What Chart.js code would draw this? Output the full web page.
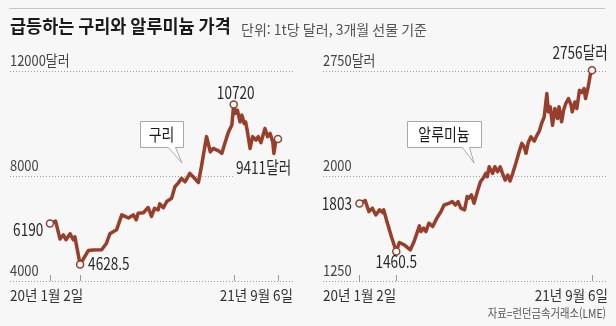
<!DOCTYPE html>
<html lang="ko">
<head>
  <meta charset="UTF-8">
  <meta name="viewport" content="width=device-width, initial-scale=1.0">
  <title>급등하는 구리와 알루미늄 가격</title>
  <script src="https://cdn.jsdelivr.net/npm/chart.js"></script>
  <style>
    body { margin: 0; background: #f7f7f7; }
    .wrap { position: relative; width: 616px; height: 326px; }
    .wrap canvas { position: absolute; left: 0; top: 0; }
  </style>
</head>
<body>
  <div class="wrap">
    <canvas id="copperChart" width="616" height="326"></canvas>
    <canvas id="aluChart" width="616" height="326"></canvas>
  </div>

  <script>
    // 구리 - LME 3개월 선물, 1t당 달러
    const copperDates = [
      '2020-01-02', '2020-01-17', '2020-01-29', '2020-02-07', '2020-02-14', '2020-02-25', '2020-03-05', '2020-03-09',
      '2020-03-23', '2020-04-14', '2020-04-27', '2020-05-20', '2020-06-02', '2020-06-11', '2020-06-29', '2020-07-13',
      '2020-07-22', '2020-07-31', '2020-08-13', '2020-08-21', '2020-08-26', '2020-09-09', '2020-09-22', '2020-10-01',
      '2020-10-09', '2020-10-19', '2020-10-23', '2020-11-02', '2020-11-11', '2020-11-24', '2020-12-03', '2020-12-11',
      '2020-12-21', '2020-12-30', '2021-01-12', '2021-01-21', '2021-02-04', '2021-02-12', '2021-02-26', '2021-03-08',
      '2021-03-16', '2021-03-30', '2021-04-08', '2021-04-16', '2021-04-26', '2021-05-05', '2021-05-10', '2021-05-14',
      '2021-05-20', '2021-05-27', '2021-06-01', '2021-06-07', '2021-06-11', '2021-06-16', '2021-06-23', '2021-06-30',
      '2021-07-09', '2021-07-15', '2021-07-22', '2021-08-02', '2021-08-09', '2021-08-16', '2021-08-23', '2021-08-26',
      '2021-09-01', '2021-09-06'
    ];
    const copperPrices = [
      6190, 6280, 5600, 5760, 5570, 5800, 5570, 5680,
      4628.5, 5160, 5180, 5190, 5440, 5800, 5950, 6520,
      6460, 6400, 6520, 6330, 6580, 6600, 6800, 6460,
      6770, 6710, 6940, 6790, 7030, 7150, 7590, 7720,
      7910, 7780, 8100, 7970, 7750, 8350, 9500, 8920,
      9050, 8960, 8860, 9240, 9680, 9940, 10720, 10380,
      10510, 10060, 10320, 10000, 10060, 9680, 9050, 9500,
      9370, 9500, 9270, 9810, 9500, 9620, 9300, 8860,
      9430, 9411
    ];

    // 알루미늄 - LME 3개월 선물, 1t당 달러
    const aluDates = [
      '2020-01-02', '2020-01-17', '2020-01-27', '2020-02-05', '2020-02-14', '2020-02-24', '2020-03-03', '2020-03-06',
      '2020-03-13', '2020-03-26', '2020-04-08', '2020-04-16', '2020-04-29', '2020-05-15', '2020-05-25', '2020-06-08',
      '2020-06-12', '2020-06-19', '2020-06-25', '2020-07-03', '2020-07-13', '2020-07-24', '2020-08-04', '2020-08-12',
      '2020-08-25', '2020-09-03', '2020-09-11', '2020-09-18', '2020-09-25', '2020-10-05', '2020-10-12', '2020-10-16',
      '2020-10-23', '2020-10-30', '2020-11-09', '2020-11-16', '2020-11-23', '2020-11-30', '2020-12-04', '2020-12-09',
      '2020-12-18', '2020-12-24', '2020-12-31', '2021-01-07', '2021-01-13', '2021-01-20', '2021-01-27', '2021-02-02',
      '2021-02-09', '2021-02-17', '2021-02-26', '2021-03-05', '2021-03-11', '2021-03-16', '2021-03-22', '2021-03-29',
      '2021-04-07', '2021-04-14', '2021-04-20', '2021-04-26', '2021-05-03', '2021-05-10', '2021-05-14', '2021-05-19',
      '2021-05-25', '2021-05-31', '2021-06-07', '2021-06-11', '2021-06-18', '2021-06-23', '2021-06-29', '2021-07-06',
      '2021-07-13', '2021-07-16', '2021-07-23', '2021-07-28', '2021-08-04', '2021-08-10', '2021-08-16', '2021-08-20',
      '2021-08-27', '2021-09-02', '2021-09-06'
    ];
    const aluPrices = [
      1803, 1824, 1746, 1770, 1722, 1758, 1739, 1758,
      1687, 1568, 1460.5, 1525, 1508, 1473, 1532, 1644,
      1603, 1627, 1603, 1663, 1639, 1699, 1746, 1793,
      1805, 1817, 1793, 1817, 1770, 1758, 1853, 1841,
      1865, 1805, 1900, 1960, 1984, 2019, 1995, 2066,
      2019, 2066, 2031, 2066, 2019, 1971, 2007, 1964,
      2019, 2090, 2173, 2233, 2209, 2162, 2240, 2280,
      2249, 2292, 2320, 2375, 2422, 2589, 2458, 2494,
      2363, 2482, 2411, 2494, 2387, 2470, 2518, 2553,
      2506, 2458, 2529, 2482, 2612, 2596, 2625, 2553,
      2636, 2731, 2756
    ];

    const copperTicks = [4000, 8000, 12000];
    const copperTickLabels = ['4000', '8000', '12000달러'];
    const aluTicks = [1250, 2000, 2750];
    const aluTickLabels = ['1250', '2000', '2750달러'];
    const dateLabels = ['20년 1월 2일', '21년 9월 6일'];

    const FONT = '"Noto Sans CJK KR", "Noto Sans", sans-serif';
    const LINE = '#973f2b';

    // 2020-01-02 부터 지난 일수
    function dayOf(d) {
      return (Date.parse(d) - Date.parse('2020-01-02')) / 864e5;
    }

    // 좁은 글꼴 흉내: 가로로 눌러서 찍기
    function text(ctx, s, x, y, size, opt = {}) {
      ctx.save();
      ctx.font = (opt.weight || 'normal') + ' ' + size + 'px ' + FONT;
      ctx.fillStyle = opt.color || '#333';
      ctx.textAlign = opt.align || 'left';
      ctx.textBaseline = 'middle';
      ctx.translate(x, y);
      ctx.scale(opt.sx || 0.8, 1);
      ctx.fillText(s, 0, 0);
      ctx.restore();
    }

    function markIndexes(prices) {
      const lo = prices.indexOf(Math.min(...prices));
      const hi = prices.indexOf(Math.max(...prices));
      return { first: 0, min: lo, max: hi, last: prices.length - 1 };
    }

    const decor = {
      id: 'decor',
      afterDatasetsDraw(chart, args, o) {
        const { ctx, chartArea: a, scales: { y } } = chart;
        const pts = chart.getDatasetMeta(0).data;
        const prices = chart.data.datasets[0].data.map(p => p.y);
        const m = markIndexes(prices);

        if (o.page) {
          ctx.save();
          ctx.strokeStyle = '#c4c4c4';
          ctx.lineWidth = 1;
          ctx.beginPath();
          ctx.moveTo(9, 8.5);
          ctx.lineTo(605, 8.5);
          ctx.stroke();
          ctx.restore();
          text(ctx, '급등하는 구리와 알루미늄 가격', 10, 26, 18, { weight: 'bold', color: '#1a1a1a', sx: 0.97 });
          text(ctx, '단위: 1t당 달러, 3개월 선물 기준', 241, 30, 14, { color: '#555', sx: 1.0 });
        }
        if (o.source) {
          text(ctx, o.source, 606, 313, 12, { color: '#555', align: 'right', sx: 0.86 });
        }

        // y 눈금 글자 (격자선 위)
        o.tickValues.forEach((v, i) => {
          text(ctx, o.tickLabels[i], a.left, y.getPixelForValue(v) - 11, 15, { color: '#444', sx: 0.86 });
        });

        // 날짜 글자
        text(ctx, dateLabels[0], a.left, a.bottom + 14, 15, { color: '#333', sx: 0.9 });
        text(ctx, dateLabels[1], a.right, a.bottom + 14, 15, { color: '#333', align: 'right', sx: 0.9 });

        // 표시점 아래 작은 눈금
        const seen = new Set(Object.values(m));
        ctx.save();
        ctx.strokeStyle = '#9a9a9a';
        ctx.lineWidth = 1;
        seen.forEach(i => {
          const px = Math.round(pts[i].x) + 0.5;
          ctx.beginPath();
          ctx.moveTo(px, a.bottom - 6);
          ctx.lineTo(px, a.bottom);
          ctx.stroke();
        });
        ctx.restore();

        // 값 표시
        o.labels.forEach(l => {
          const i = m[l.at];
          const s = prices[i] + (l.suffix || '');
          const px = pts[i].x + l.dx, py = pts[i].y + l.dy;
          if (l.bg) {
            ctx.save();
            ctx.fillStyle = '#f7f7f7';
            ctx.fillRect(px - 2, py - 8, 60, 18);
            ctx.restore();
          }
          text(ctx, s, px, py, 17, { color: '#2a2a2a', align: l.align, sx: 0.8 });
        });

        // 말풍선
        const b = o.callout;
        ctx.save();
        ctx.beginPath();
        ctx.moveTo(b.x1 + 0.5, b.y1 + 0.5);
        ctx.lineTo(b.x2 + 0.5, b.y1 + 0.5);
        ctx.lineTo(b.x2 + 0.5, b.y2 + 0.5);
        ctx.lineTo(b.base2 + 0.5, b.y2 + 0.5);
        ctx.lineTo(b.tipX, b.tipY);
        ctx.lineTo(b.base1 + 0.5, b.y2 + 0.5);
        ctx.lineTo(b.x1 + 0.5, b.y2 + 0.5);
        ctx.closePath();
        ctx.fillStyle = '#fff';
        ctx.fill();
        ctx.strokeStyle = '#a8a8a8';
        ctx.lineWidth = 1;
        ctx.stroke();
        ctx.restore();
        text(ctx, b.text, (b.x1 + b.x2) / 2, (b.y1 + b.y2) / 2 + 1, 17, { color: '#1a1a1a', align: 'center', sx: 0.82 });
      }
    };

    function makeChart(id, dates, prices, cfg) {
      const m = markIndexes(prices);
      const marks = new Set(Object.values(m));
      return new Chart(document.getElementById(id), {
        type: 'line',
        data: {
          datasets: [{
            data: dates.map((d, i) => ({ x: dayOf(d), y: prices[i] })),
            borderColor: LINE,
            borderWidth: 3.5,
            borderJoinStyle: 'round',
            tension: 0,
            clip: false,
            pointRadius: c => marks.has(c.dataIndex) ? 3.5 : 0,
            pointHoverRadius: 0,
            pointBackgroundColor: '#fff',
            pointBorderColor: LINE,
            pointBorderWidth: 1.5
          }]
        },
        options: {
          responsive: false,
          animation: false,
          events: [],
          layout: { padding: cfg.padding },
          plugins: {
            legend: { display: false },
            tooltip: { enabled: false },
            decor: cfg.decor
          },
          scales: {
            x: { type: 'linear', display: false, min: cfg.xMin, max: cfg.xMax },
            y: {
              min: cfg.ticks[0],
              max: cfg.ticks[cfg.ticks.length - 1],
              afterBuildTicks: s => { s.ticks = cfg.ticks.map(v => ({ value: v })); },
              ticks: { display: false },
              grid: { drawTicks: false, color: '#a0a0a0', lineWidth: 1, borderDash: [1, 2] },
              border: { display: false, dash: [1, 2] }
            }
          }
        },
        plugins: [decor]
      });
    }

    makeChart('copperChart', copperDates, copperPrices, {
      padding: { left: 10, right: 323, top: 71, bottom: 45 },
      xMin: -107.5, xMax: 653.4,
      ticks: copperTicks,
      decor: {
        page: true,
        tickValues: copperTicks,
        tickLabels: copperTickLabels,
        labels: [
          { at: 'first', dx: -6.7, dy: 6, align: 'right' },
          { at: 'min', dx: 8, dy: -1, align: 'left' },
          { at: 'max', dx: 2, dy: -12, align: 'center' },
          { at: 'last', dx: -42, dy: 29, align: 'left', suffix: '달러', bg: true }
        ],
        callout: { text: '구리', x1: 140, y1: 121, x2: 183, y2: 147, base1: 168, base2: 175, tipX: 182, tipY: 163 }
      }
    });

    makeChart('aluChart', aluDates, aluPrices, {
      padding: { left: 323, right: 8, top: 71, bottom: 45 },
      xMin: -96.2, xMax: 655.2,
      ticks: aluTicks,
      decor: {
        source: '자료=런던금속거래소(LME)',
        tickValues: aluTicks,
        tickLabels: aluTickLabels,
        labels: [
          { at: 'first', dx: -7.5, dy: 0, align: 'right' },
          { at: 'min', dx: 0, dy: 10.5, align: 'center' },
          { at: 'last', dx: 15.7, dy: -18, align: 'right', suffix: '달러' }
        ],
        callout: { text: '알루미늄', x1: 407, y1: 121, x2: 481, y2: 147, base1: 462, base2: 469, tipX: 474, tipY: 163 }
      }
    });
  </script>
</body>
</html>
